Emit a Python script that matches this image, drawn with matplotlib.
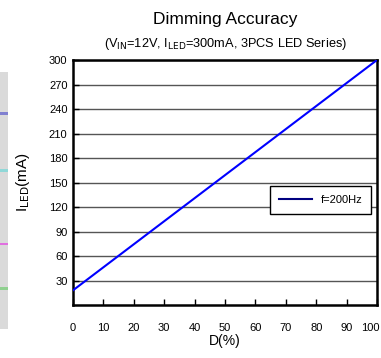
import matplotlib.pyplot as plt
from matplotlib.patches import Rectangle
from matplotlib.transforms import offset_copy

plt.rcParams['font.family'] = ['Liberation Sans', 'DejaVu Sans']

# duty cycle (%) vs LED current (mA) at f=200Hz
duty = [0, 100]
i_led = [18, 300]

x_ticks = [0, 10, 20, 30, 40, 50, 60, 70, 80, 90, 100]
y_ticks = [30, 60, 90, 120, 150, 180, 210, 240, 270, 300]

fig = plt.figure(figsize=(3.81, 3.58), dpi=100)
ax = fig.add_axes([0.1916, 0.148, 0.7979, 0.6844])

# strip of the neighbouring panel on the left edge
fig.patches.append(Rectangle((0, 0.08), 0.021, 0.72, transform=fig.transFigure,
                             facecolor='#dadada', edgecolor='none'))
for yf, c in [(0.68, '#8080d0'), (0.52, '#90d8d8'), (0.315, '#e070e0'), (0.19, '#90d090')]:
    fig.patches.append(Rectangle((0, yf), 0.021, 0.007, transform=fig.transFigure,
                                 facecolor=c, edgecolor='none'))

ax.plot(duty, i_led, color='#0000ff', lw=1.5, label='f=200Hz', zorder=3)

ax.set_xlim(0, 100)
ax.set_ylim(0, 300)
ax.set_xticks(x_ticks)
ax.set_yticks(y_ticks)
ax.yaxis.grid(True, color='#555555', lw=1.0)
ax.set_axisbelow(True)
ax.tick_params(axis='both', direction='in', length=4, width=1, labelsize=8)
ax.tick_params(axis='x', pad=13)
ax.tick_params(axis='y', pad=4)
for s in ax.spines.values():
    s.set_linewidth(1.8)

# keep the last x label inside the figure
fig.canvas.draw()
last = ax.get_xticklabels()[-1]
last.set_transform(offset_copy(last.get_transform(), fig=fig, x=-7, units='dots'))

leg = ax.legend(loc='center right', bbox_to_anchor=(1.0, 0.43), fontsize=8,
                fancybox=False, framealpha=1, edgecolor='black',
                handlelength=3, borderpad=0.8)
leg.get_frame().set_linewidth(1.0)
leg.get_lines()[0].set_color('#000080')

ax.set_xlabel('D(%)', fontsize=10, labelpad=1)
ax.set_ylabel(r'I$_{\mathrm{LED}}$(mA)', fontsize=11, labelpad=12)

fig.text(0.592, 0.945, 'Dimming Accuracy', ha='center', va='center', fontsize=12.5)
fig.text(0.592, 0.877, r'(V$_{\mathrm{IN}}$=12V, I$_{\mathrm{LED}}$=300mA, 3PCS LED Series)',
         ha='center', va='center', fontsize=9.2)

fig.savefig('out.png', dpi=100)
